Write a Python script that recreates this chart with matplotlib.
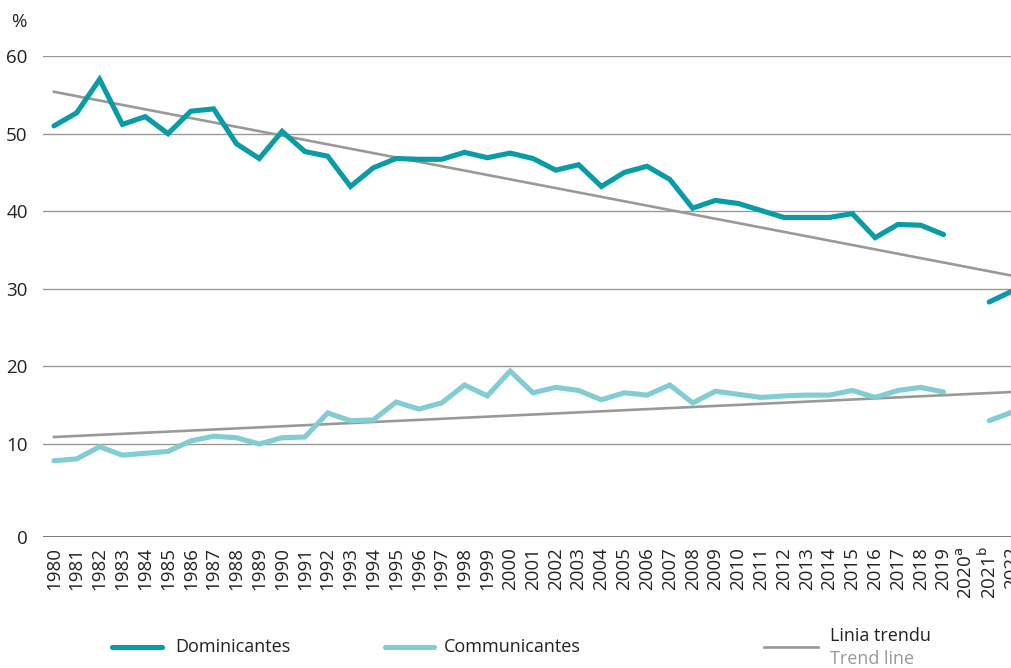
import numpy as np
import matplotlib
matplotlib.use("Agg")
import matplotlib.pyplot as plt
from matplotlib.lines import Line2D

plt.rcParams['font.family'] = ['Open Sans', 'DejaVu Sans']

# Data
years = list(range(1980, 2023))
tick_labels = [str(y) for y in years]
tick_labels[years.index(2020)] = r"2020$^{\mathrm{a}}$"
tick_labels[years.index(2021)] = r"2021$^{\mathrm{b}}$"

dominicantes = [51.0, 52.7, 57.0, 51.2, 52.2, 50.0, 52.9, 53.2, 48.7, 46.8,
                50.3, 47.7, 47.1, 43.2, 45.6, 46.8, 46.7, 46.7, 47.6, 46.9,
                47.5, 46.8, 45.3, 46.0, 43.2, 45.0, 45.8, 44.1, 40.4, 41.4,
                41.0, 40.1, 39.2, 39.2, 39.2, 39.7, 36.6, 38.3, 38.2, 37.0,
                np.nan, 28.3, 29.7]
communicantes = [8.2, 8.4, 9.7, 8.8, 9.0, 9.2, 10.4, 11.0, 10.8, 10.0,
                 10.8, 10.9, 14.0, 13.0, 13.1, 15.4, 14.5, 15.3, 17.6, 16.2,
                 19.4, 16.6, 17.3, 16.9, 15.7, 16.6, 16.3, 17.6, 15.3, 16.8,
                 16.4, 16.0, 16.2, 16.3, 16.3, 16.9, 16.0, 16.9, 17.3, 16.7,
                 np.nan, 13.0, 14.1]
trend_years = [1980, 2022]
trend_dom = [55.4, 31.7]
trend_com = [10.9, 16.7]

c_dom = "#0a9ca6"
c_com = "#82cdd3"
c_trend = "#999999"
c_text = "#222222"

fig = plt.figure(figsize=(10.12, 6.68), dpi=100)
ax = fig.add_axes([0.0425, 0.196, 0.9575, 0.72])

# axis is stretched between 0 and 10
def fwd(y):
    y = np.asarray(y, dtype=float)
    return np.where(y < 10, y * 1.2, y + 2)

def inv(z):
    z = np.asarray(z, dtype=float)
    return np.where(z < 12, z / 1.2, z - 2)

ax.set_yscale('function', functions=(fwd, inv))

ax.plot(trend_years, trend_dom, color=c_trend, lw=1.9, zorder=2)
ax.plot(trend_years, trend_com, color=c_trend, lw=1.9, zorder=2)
ax.plot(years, dominicantes, color=c_dom, lw=3.7, solid_capstyle='round',
        solid_joinstyle='miter', zorder=3)
ax.plot(years, communicantes, color=c_com, lw=3.7, solid_capstyle='round',
        solid_joinstyle='miter', zorder=3)

ax.set_xlim(1979.52, 2022.0)
ax.set_ylim(0, 60)
ax.set_yticks([0, 10, 20, 30, 40, 50, 60])
ax.set_xticks(years)
ax.set_xticklabels(tick_labels, rotation=90, fontsize=13.5, color=c_text)
ax.tick_params(axis='x', length=0, pad=7)
ax.tick_params(axis='y', length=0, pad=11, labelsize=13.5, labelcolor=c_text)
for s in ax.spines.values():
    s.set_visible(False)
ax.yaxis.grid(True, color="#999999", lw=1.0)
ax.set_axisbelow(True)
ax.axhline(0, color="#666666", lw=1.2, zorder=1)

fig.text(0.011, 0.96, "%", fontsize=13.5, color=c_text)

# legend
ly = 1 - 647 / 668
fig.add_artist(Line2D([112 / 1012, 162 / 1012], [ly, ly], color=c_dom, lw=3.7,
                      solid_capstyle='round'))
fig.text(175 / 1012, ly, "Dominicantes", fontsize=13, color=c_text, va='center')
fig.add_artist(Line2D([385 / 1012, 434 / 1012], [ly, ly], color=c_com, lw=3.7,
                      solid_capstyle='round'))
fig.text(444 / 1012, ly, "Communicantes", fontsize=13, color=c_text, va='center')
fig.add_artist(Line2D([764 / 1012, 818 / 1012], [ly, ly], color=c_trend, lw=1.9))
fig.text(830 / 1012, 1 - 636 / 668, "Linia trendu", fontsize=13, color=c_text, va='center')
fig.text(830 / 1012, 1 - 659 / 668, "Trend line", fontsize=13, color="#999999", va='center')

fig.savefig("out.png", dpi=100)
